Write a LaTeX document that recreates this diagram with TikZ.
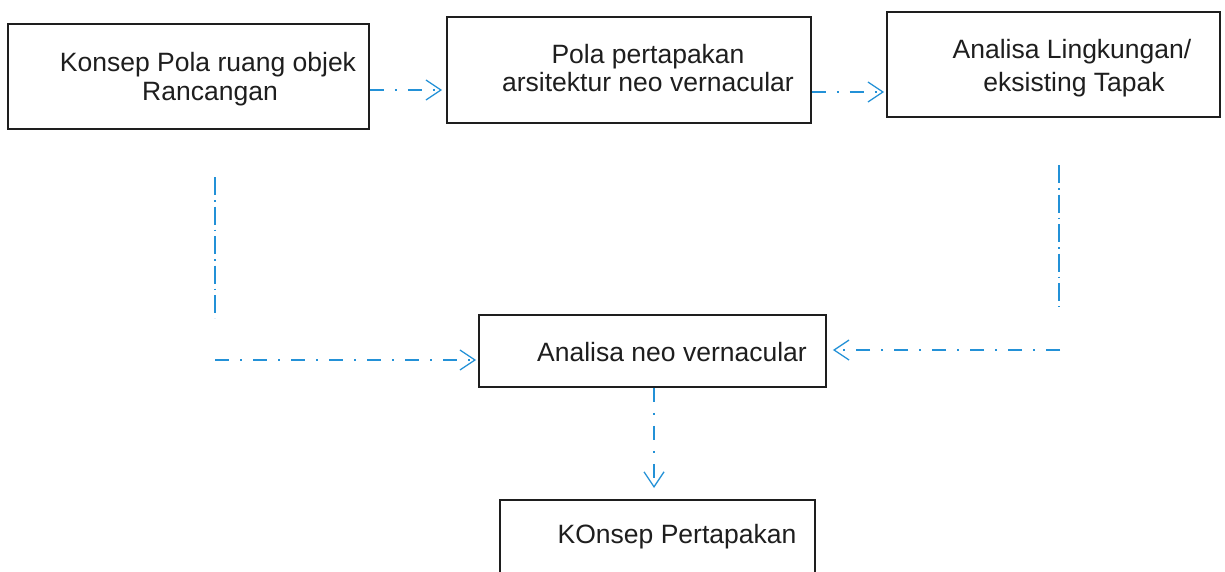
\documentclass[tikz,border=0pt]{standalone}
\usepackage{fontspec}
\setmainfont{Liberation Sans}
\usetikzlibrary{arrows.meta}
\definecolor{flowblue}{RGB}{35,145,215}
\definecolor{inkgray}{RGB}{30,30,30}
\tikzset{
  box/.style={draw=inkgray, line width=1.8pt, inner sep=0pt, rectangle},
  txt/.style={text=inkgray, inner sep=0pt, anchor=base,
              font=\fontsize{26.5}{30}\selectfont},
  flowline/.style={draw=flowblue, line width=2pt,
                   dash pattern=on 14pt off 11pt on 2pt off 11pt},
  vflowline/.style={draw=flowblue, line width=2pt,
                   dash pattern=on 18pt off 5pt on 1.5pt off 5pt},
  flow/.style={flowline, -{Straight Barb[length=15pt,width=20pt,line width=1.3pt]}},
}
\begin{document}
\begin{tikzpicture}[x=1pt,y=-1pt]
\useasboundingbox (0,0) rectangle (1225,571);
\clip (0,0) rectangle (1225,571);
\fill[white] (0,0) rectangle (1225,571);

% boxes
\node[box, minimum width=361pt, minimum height=105pt] (b1) at (188.5,76.5) {};
\node[box, minimum width=364pt, minimum height=106pt] (b2) at (629,70) {};
\node[box, minimum width=333pt, minimum height=105pt] (b3) at (1053.5,64.5) {};
\node[box, minimum width=347pt, minimum height=72pt] (b4) at (652.5,351) {};
\node[box, minimum width=315pt, minimum height=100pt] (b5) at (657.5,550) {};

% labels
\node[txt] (t1a) at (208,71) {Konsep Pola ruang objek};
\node[txt] (t1b) at (210,100) {Rancangan};
\node[txt] (t2a) at (648,63) {Pola pertapakan};
\node[txt] (t2b) at (648,91) {arsitektur neo vernacular};
\node[txt] (t3a) at (1072,58) {Analisa Lingkungan/};
\node[txt] (t3b) at (1074,91) {eksisting Tapak};
\node[txt] (t4) at (672,361) {Analisa neo vernacular};
\node[txt] (t5) at (677,543) {KOnsep Pertapakan};

% connectors
\draw[flow, shorten >=4pt] (b1.east |- 0,90) -- (b2.west |- 0,90);
\draw[flow, shorten >=2pt] (b2.east |- 0,92) -- (b3.west |- 0,92);

\coordinate (lv1) at (215,177);
\coordinate (lv2) at (215,318);
\coordinate (lh) at (215,360);
\draw[vflowline] (lv1) -- (lv2);
\draw[flow, shorten >=2pt] (lh) -- (b4.west |- lh);

\coordinate (rv1) at (1059,165);
\coordinate (rv2) at (1059,307);
\coordinate (rh) at (1060,350);
\draw[vflowline] (rv1) -- (rv2);
\draw[flow, shorten >=6pt] (rh) -- (b4.east |- rh);

\coordinate (dend) at (654,488);
\draw[flow] (b4.south -| dend) -- (dend);
\end{tikzpicture}
\end{document}
